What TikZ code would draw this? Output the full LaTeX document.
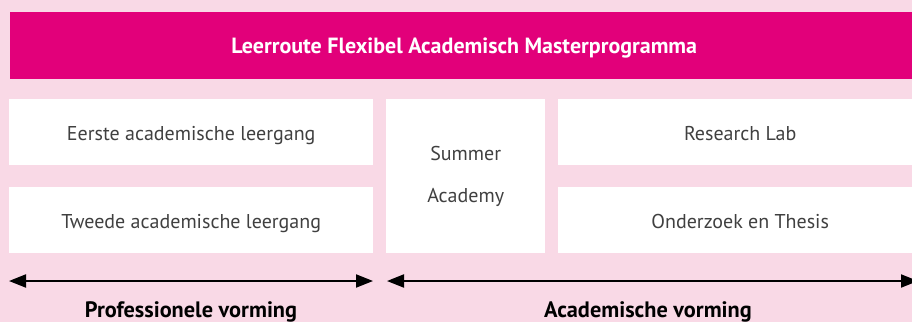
\documentclass[tikz,border=0pt]{standalone}
\usepackage{fontspec}
\setmainfont{PT Sans}
\usetikzlibrary{arrows.meta}
\definecolor{bgpink}{HTML}{F9D9E6}
\definecolor{magenta}{HTML}{E2007A}
\definecolor{boxtext}{HTML}{404040}
\tikzset{
  box/.style={fill=white, draw=none, anchor=north west, inner sep=0pt, text=boxtext, font=\fontsize{20}{24}\selectfont, align=center},
  onebox/.style={box, text height=16pt, text depth=0pt},
  band/.style={fill=magenta, draw=none, anchor=north west, inner sep=0pt, text=white, font=\bfseries\fontsize{22}{26}\selectfont, text height=15pt, text depth=0pt},
  span/.style={{Triangle[length=17pt,width=13pt]}-{Triangle[length=17pt,width=13pt]}, line width=2pt},
  lbl/.style={font=\bfseries\fontsize{22.3}{26}\selectfont, text=black, inner sep=0pt, anchor=base}
}
\begin{document}
\begin{tikzpicture}[x=1pt,y=-1pt]
\fill[bgpink] (0,0) rectangle (912,322);
\useasboundingbox (0,0) rectangle (912,322);
\node[band, minimum width=902pt, minimum height=67pt] (title) at (10,12) {\hspace*{6pt}Leerroute Flexibel Academisch Masterprogramma};
\node[onebox, minimum width=364pt, minimum height=66pt] (eerste) at (9,99) {Eerste academische leergang};
\node[onebox, minimum width=364pt, minimum height=66pt] (tweede) at (9,187) {Tweede academische leergang};
\node[box, minimum width=159pt, minimum height=154pt, font=\fontsize{20}{42}\selectfont] (summer) at (386,99) {Summer\\Academy};
\node[onebox, minimum width=354pt, minimum height=66pt] (lab) at (558,99) {\hspace*{10pt}Research Lab};
\node[onebox, minimum width=354pt, minimum height=66pt] (thesis) at (558,187) {\hspace*{10pt}Onderzoek en Thesis};
\coordinate (a1l) at (9,281);
\coordinate (a1r) at (373,281);
\coordinate (a2l) at (387,281);
\coordinate (a2r) at (918,281);
\draw[span] (a1l) -- (a1r);
\draw[span] (a2l) -- (a2r);
\node[lbl] (prof) at (191,317) {Professionele vorming};
\node[lbl] (acad) at (648,317) {Academische vorming};
\end{tikzpicture}
\end{document}
